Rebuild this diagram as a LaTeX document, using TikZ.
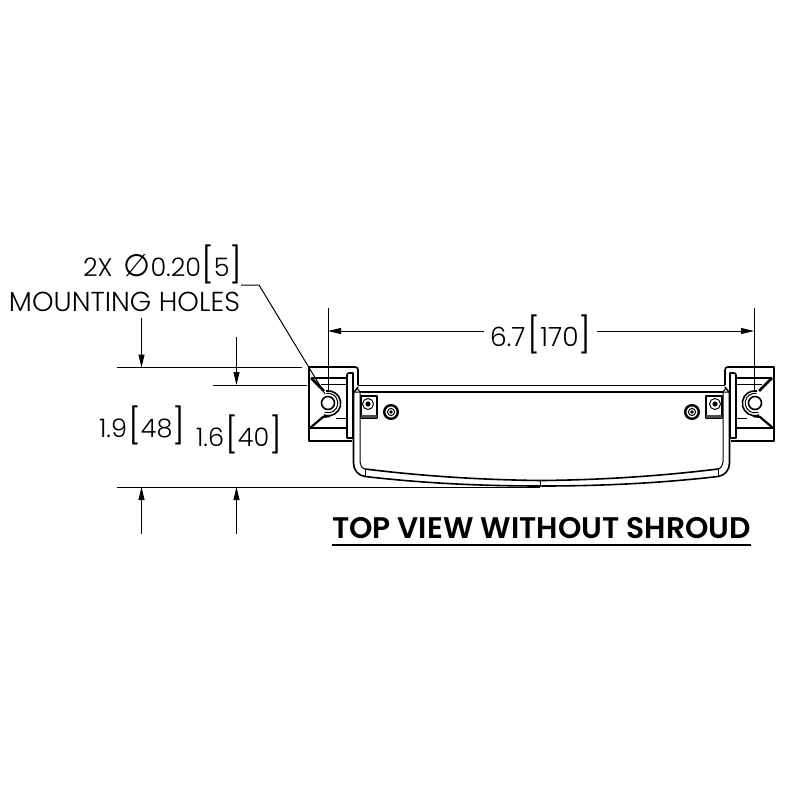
\documentclass[tikz,border=0pt]{standalone}
\usepackage{fontspec}
\setmainfont{Poppins Light}
\newfontfamily\boldf{Poppins SemiBold}
\newfontfamily\symf{DejaVu Sans}
\usetikzlibrary{arrows.meta}
\newcommand{\brk}[1]{{\fontsize{35}{35}\selectfont\raisebox{-1pt}{#1}}}
\tikzset{
  dim/.style={line width=1pt,draw=black},
  dimarrow/.style={dim,-{Triangle[length=13pt,width=6pt]}},
  lbl/.style={font=\fontsize{26.5}{26.5}\selectfont,anchor=base west,inner sep=0pt,outer sep=0pt,text=black},
  numlbl/.style={lbl,font=\fontsize{25.5}{25.5}\selectfont},
  heavy/.style={line width=1.6pt,draw=black,line join=round},
  med/.style={line width=1pt,draw=black},
}
\newcommand{\halfpart}{%
  % bracket outline
  \draw[heavy] (352,441)--(309,441)--(309,367)--(355,367) .. controls (357,367) and (358,368) .. (358,370)--(358,385);
  \draw[heavy] (347,378)--(311,378);
  \draw[med] (321,384)--(347,384);
  \draw[med] (336,418)--(347,418);
  \draw[heavy] (310,428)--(347,428);
  % plate
  \draw[heavy] (347,438)--(347,375) .. controls (347,374) and (348,373) .. (349,373)--(353,373)--(353,438)--cycle;
  % wedges
  \draw[line width=2.6pt,draw=black] (311,378)--(324,391);
  \draw[line width=2.2pt,draw=black] (310,428)--(323,417)--(330,416);
  % hole
  \draw[heavy] (328,403) circle (6.5);
  \draw[heavy] (326,391) arc[start angle=-100,end angle=110,radius=12.5];
  \draw[med] (326.3,393.4) arc[start angle=-100,end angle=110,radius=9.8];
  % tray wall
  \draw[heavy] (358,387)--(353.5,393)--(353.5,463) .. controls (353.5,470) and (358,475.5) .. (365,476.5);
  \draw[heavy] (365,476.5) .. controls (430,484) and (490,486) .. (541.5,486);
  \draw[med] (360,392)--(360,462) .. controls (360,465) and (362,468.5) .. (365,469);
  \draw[heavy] (365,469) .. controls (430,477) and (490,480) .. (541.5,480.5);
  \draw[med] (357,388)--(360,392)--(354,392);
  \draw[med] (365,469)--(365,476.5);
  % small block
  \draw[heavy] (361,396) rectangle (377,418);
  \fill[black!70] (361,414.5) rectangle (377,418);
  \draw[med,fill=white] (368,404) circle (5.5);
  \fill[black] (368,404) circle (2.6);
  % screw
  \draw[line width=2.4pt,draw=black,fill=white] (391,412) circle (6.8);
  \draw[med] (391,412) circle (3.6);
  \fill[black] (391,412) circle (1.8);
}
\begin{document}
\begin{tikzpicture}[x=1pt,y=-1pt]
\useasboundingbox (0,0) rectangle (800,800);
\fill[white] (0,0) rectangle (800,800);
% tray top
\draw[heavy] (358,385.5)--(725,385.5);
\draw[heavy] (360,392)--(723,392);
\draw[med] (540,480.5)--(540,486);
\halfpart
\begin{scope}[xshift=1083pt,xscale=-1]
\halfpart
\end{scope}
% coordinates for dimensions
\coordinate (extL) at (328,308);
\coordinate (holeL) at (328,392);
\coordinate (extR) at (754,308);
\coordinate (holeR) at (754,392);
\coordinate (dimL) at (328,331);
\coordinate (dimLe) at (484,331);
\coordinate (dimR) at (754,331);
\coordinate (dimRe) at (597,331);
\coordinate (topA) at (117,367.5);
\coordinate (topAe) at (302,367.5);
\coordinate (topB) at (213,385);
\coordinate (topBe) at (307,385);
\coordinate (botA) at (117,487);
\coordinate (botAe) at (540,487);
\coordinate (a1s) at (141.5,318);
\coordinate (a1e) at (141.5,367.5);
\coordinate (a2s) at (236.5,337);
\coordinate (a2e) at (236.5,385);
\coordinate (a3s) at (141.5,534);
\coordinate (a3e) at (141.5,487);
\coordinate (a4s) at (236.5,534);
\coordinate (a4e) at (236.5,487);
\coordinate (ld1) at (241,285);
\coordinate (ld2) at (259,285);
\coordinate (ld3) at (325,394);
\draw[dim] (extL)--(holeL);
\draw[dim] (extR)--(holeR);
\draw[dimarrow] (dimLe)--(dimL);
\draw[dimarrow] (dimRe)--(dimR);
\draw[dim] (topA)--(topAe);
\draw[dim] (topB)--(topBe);
\draw[dim] (botA)--(botAe);
\draw[dimarrow] (a1s)--(a1e);
\draw[dimarrow] (a2s)--(a2e);
\draw[dimarrow] (a3s)--(a3e);
\draw[dimarrow] (a4s)--(a4e);
\draw[dim] (ld1)--(ld2)--(ld3);
% text
\node[numlbl] (t2x) at (83,276) {2X\hspace{11pt}{\symf\fontsize{31}{31}\selectfont∅}\hspace{0pt}0.20\hspace{0pt}\brk{[}5\brk{]}};
\node[lbl,font=\fontsize{27.4}{27.4}\selectfont] (tmh) at (9,311) {MOUNTING HOLES};
\node[lbl] (t67) at (490,346) {6.7\hspace{2pt}\brk{[}170\brk{]}};
\node[numlbl] (t19) at (99,437) {1.9\hspace{1pt}\brk{[}48\brk{]}};
\node[numlbl] (t16) at (196,446) {1.6\hspace{1pt}\brk{[}40\brk{]}};
\node[lbl,font=\boldf\fontsize{29.8}{29.8}\selectfont] (ttl) at (332,538) {TOP VIEW WITHOUT SHROUD};
\coordinate (ul1) at (332,544.5);
\coordinate (ul2) at (751,544.5);
\draw[line width=2pt] (ul1)--(ul2);
\end{tikzpicture}
\end{document}
